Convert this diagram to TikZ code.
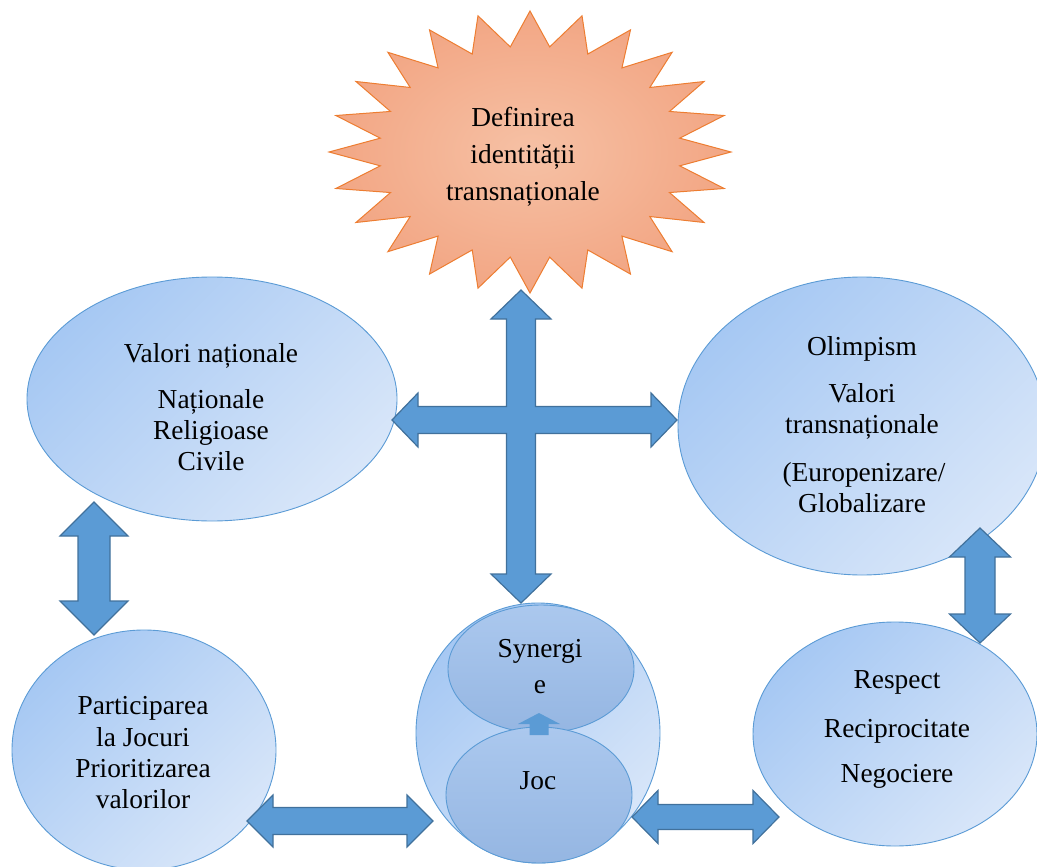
\documentclass[tikz,border=0pt]{standalone}
\usepackage{fontspec}
\setmainfont{Liberation Serif}
\usetikzlibrary{shapes.geometric,calc}
\definecolor{arrfill}{HTML}{5B9BD5}
\definecolor{arrline}{HTML}{41719C}
\definecolor{bubA}{HTML}{A6C8F3}
\definecolor{bubB}{HTML}{D8E6F9}
\definecolor{bubline}{HTML}{5B9BD5}
\definecolor{innA}{HTML}{ABC8EE}
\definecolor{innB}{HTML}{95B6E2}
\definecolor{starIn}{HTML}{F6C1A5}
\definecolor{starOut}{HTML}{F2A684}
\definecolor{starLine}{HTML}{ED7D31}
\tikzset{
  bub/.style={ellipse, draw=bubline, line width=0.9pt, inner sep=0pt,
    top color=bubA, bottom color=bubB, shading angle=45},
  inner/.style={ellipse, draw=bubline, line width=0.9pt, inner sep=0pt,
    top color=innA, bottom color=innB},
  blockarrow/.style={fill=arrfill, draw=arrline, line width=1.2pt, line join=miter},
  txt/.style={font=\fontsize{27.4}{31}\selectfont, anchor=base, inner sep=0pt},
}
\newcommand{\VDArrow}[5]{\draw[blockarrow] let \p1=(#1), \p2=(#2) in
  (\p1) -- ++(#4pt,-#5pt) -- ++(-#4pt+#3pt,0pt) -- (\x1+#3pt,\y2+#5pt)
  -- ++(#4pt-#3pt,0pt) -- (\x1,\y2) -- ++(-#4pt,#5pt) -- ++(#4pt-#3pt,0pt)
  -- (\x1-#3pt,\y1-#5pt) -- ++(-#4pt+#3pt,0pt) -- cycle;}
\newcommand{\HDArrow}[5]{\draw[blockarrow] let \p1=(#1), \p2=(#2) in
  (\p1) -- ++(#5pt,#4pt) -- ++(0pt,-#4pt+#3pt) -- (\x2-#5pt,\y1+#3pt)
  -- ++(0pt,#4pt-#3pt) -- (\x2,\y1) -- ++(-#5pt,-#4pt) -- ++(0pt,#4pt-#3pt)
  -- (\x1+#5pt,\y1-#3pt) -- ++(0pt,-#4pt+#3pt) -- cycle;}
\begin{document}
\begin{tikzpicture}[x=1pt,y=-1pt]
\clip (0,0) rectangle (1037,867);
\useasboundingbox (0,0) rectangle (1037,867);

% star
\begin{scope}[shift={(530,152)}]
\draw[starLine, line width=1pt, inner color=starIn, outer color=starOut]
  (0:201 and 141) \foreach \k in {0,...,23} {
    -- ({\k*15+7.5}:151 and 106) -- ({\k*15+15}:201 and 141) } -- cycle;
\end{scope}

% ellipses
\node[bub, minimum width=370pt, minimum height=244pt] (vn) at (212,399) {};
\node[bub, minimum width=368pt, minimum height=298pt] (ol) at (862,426) {};
\node[bub, minimum width=264pt, minimum height=240pt] (pj) at (144,750) {};
\node[bub, minimum width=284pt, minimum height=224pt] (rs) at (895,734) {};
\node[bub, minimum width=244pt, minimum height=260pt] (ctr) at (538,733) {};
\node[inner, minimum width=186pt, minimum height=128pt] (syn) at (541,669) {};
\node[inner, minimum width=186pt, minimum height=136pt] (joc) at (539,795) {};

% connector coordinates
\coordinate (cT) at (521,290);
\coordinate (cB) at (521,603);
\coordinate (cL) at (392,420);
\coordinate (cR) at (677,420);
\coordinate (lT) at (94,502);
\coordinate (lB) at (94,635);
\coordinate (rT) at (980,528);
\coordinate (rB) at (980,643);
\coordinate (blL) at (247,821);
\coordinate (blR) at (433,821);
\coordinate (brL) at (632,817);
\coordinate (brR) at (779,817);
\coordinate (sT) at (539,713);
\coordinate (sB) at (539,735);

% cross arrow
\draw[blockarrow] let \p1=(cT), \p2=(cB), \p3=(cL), \p4=(cR) in
  (\x1,\y1) -- (\x1+30pt,\y1-29pt) -- (\x1+14.5pt,\y1-29pt)
  -- (\x1+14.5pt,\y3+13.5pt) -- (\x4-26pt,\y3+13.5pt) -- (\x4-26pt,\y3+27pt)
  -- (\x4,\y3) -- (\x4-26pt,\y3-27pt) -- (\x4-26pt,\y3-13.5pt)
  -- (\x1+14.5pt,\y3-13.5pt) -- (\x1+14.5pt,\y2+29pt) -- (\x1+30pt,\y2+29pt)
  -- (\x1,\y2) -- (\x1-30pt,\y2+29pt) -- (\x1-14.5pt,\y2+29pt)
  -- (\x1-14.5pt,\y3-13.5pt) -- (\x3+26pt,\y3-13.5pt) -- (\x3+26pt,\y3-27pt)
  -- (\x3,\y3) -- (\x3+26pt,\y3+27pt) -- (\x3+26pt,\y3+13.5pt)
  -- (\x1-14.5pt,\y3+13.5pt) -- (\x1-14.5pt,\y1-29pt) -- (\x1-30pt,\y1-29pt) -- cycle;

\VDArrow{lT}{lB}{16}{34}{34}
\VDArrow{rT}{rB}{15}{30.5}{29}
\HDArrow{blL}{blR}{13.5}{26}{26}
\HDArrow{brL}{brR}{12.5}{26.5}{26}

% small arrow Joc -> Synergie
\fill[arrfill] let \p1=(sT), \p2=(sB) in
  (\p1) -- (\x1+21pt,\y1-11pt) -- (\x1+9.5pt,\y1-11pt) -- (\x1+9.5pt,\y2)
  -- (\x1-9.5pt,\y2) -- (\x1-9.5pt,\y1-11pt) -- (\x1-21pt,\y1-11pt) -- cycle;

% texts
\node[txt] (st1) at (523,127) {Definirea};
\node[txt] (st2) at (523,163) {identității};
\node[txt] (st3) at (523,200) {transnaționale};

\node[txt] (vn1) at (211,362) {Valori naționale};
\node[txt] (vn2) at (211,408) {Naționale};
\node[txt] (vn3) at (211,439) {Religioase};
\node[txt] (vn4) at (211,470) {Civile};

\node[txt] (ol1) at (862,355) {Olimpism};
\node[txt] (ol2) at (862,402) {Valori};
\node[txt] (ol3) at (862,433) {transnaționale};
\node[txt] (ol4) at (864,481) {(Europenizare/};
\node[txt] (ol5) at (862,512) {Globalizare};

\node[txt] (pj1) at (143,714) {Participarea};
\node[txt] (pj2) at (143,746) {la Jocuri};
\node[txt] (pj3) at (143,777) {Prioritizarea};
\node[txt] (pj4) at (143,808) {valorilor};

\node[txt] (rs1) at (897,688) {Respect};
\node[txt] (rs2) at (897,737) {Reciprocitate};
\node[txt] (rs3) at (897,782) {Negociere};

\node[txt] (sy1) at (540,657) {Synergi};
\node[txt] (sy2) at (540,693) {e};
\node[txt] (jc1) at (538,789) {Joc};
\end{tikzpicture}
\end{document}
